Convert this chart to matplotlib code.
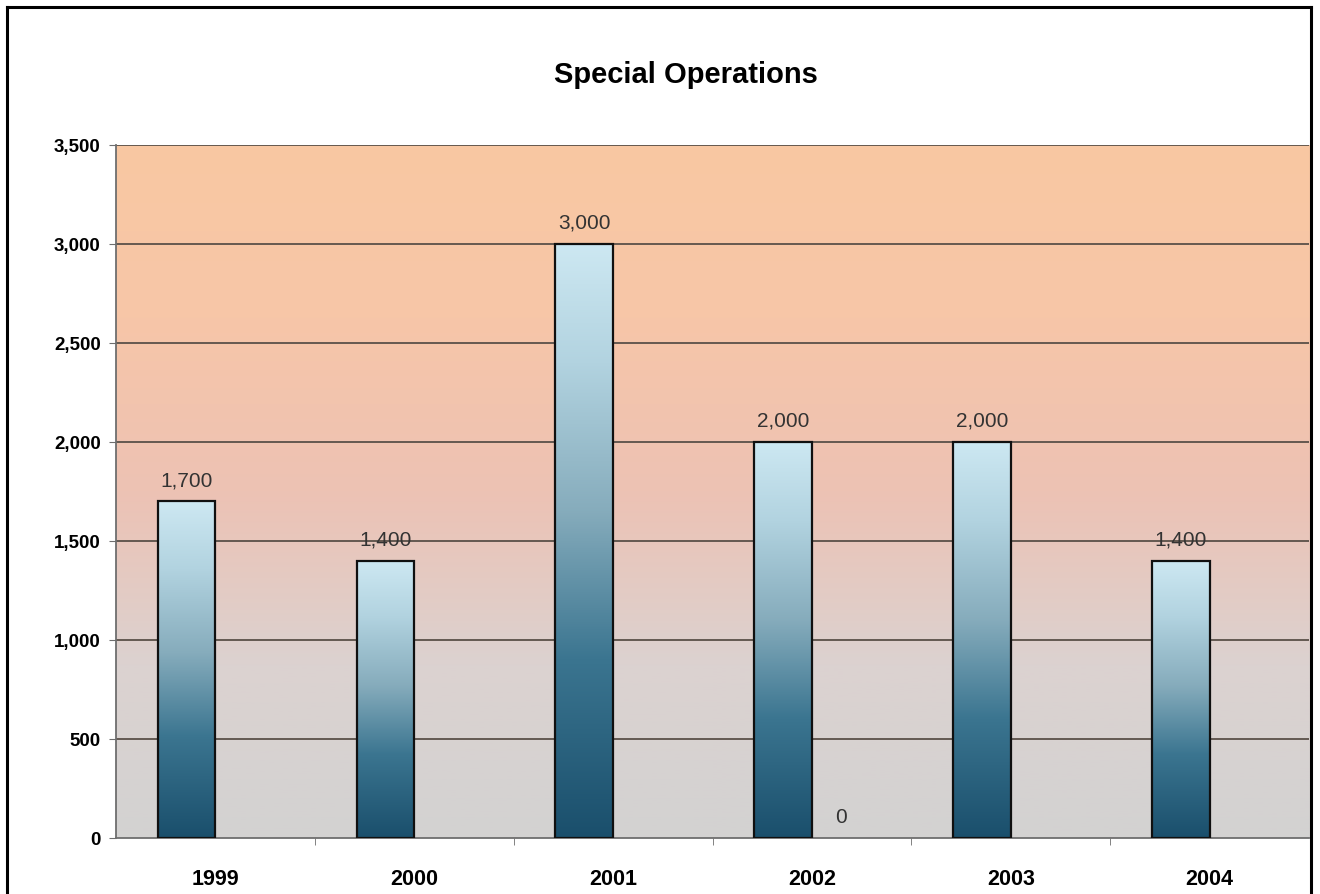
import numpy as np
import matplotlib
matplotlib.use('Agg')
import matplotlib.pyplot as plt
from matplotlib.colors import LinearSegmentedColormap
from matplotlib.patches import Rectangle
from matplotlib.ticker import FuncFormatter, FixedLocator

# Data
years = ['1999', '2000', '2001', '2002', '2003', '2004']
operations = [1700, 1400, 3000, 2000, 2000, 1400]
second_series = [None, None, None, 0, None, None]  # only the 2002 zero label shows

plt.rcParams['font.family'] = ['Liberation Sans', 'DejaVu Sans']

dpi = 100
fig = plt.figure(figsize=(1320 / dpi, 894 / dpi), dpi=dpi)
ax = fig.add_axes([0.0879, 0.0626, 0.9038, 0.7752])

x = np.arange(len(years))
width = 0.29
ymax = 3500

ax.set_xlim(-0.5, len(years) - 0.5)
ax.set_ylim(0, ymax)

# background gradient: grey at bottom -> pinkish -> peach at top
bg_cmap = LinearSegmentedColormap.from_list(
    'bg', [(0.0, '#d3d2d2'), (0.25, '#dcd2d0'), (0.5, '#edc2b4'), (0.75, '#f7c6a8'), (1.0, '#f9c8a2')])
grad = np.linspace(0, 1, 256).reshape(-1, 1)
ax.imshow(grad, cmap=bg_cmap, aspect='auto', origin='lower',
          extent=[-0.5, len(years) - 0.5, 0, ymax], zorder=0)

# grid lines
for yv in range(500, ymax + 1, 500):
    ax.axhline(yv, color='#5a5048', lw=1.3, zorder=1)

# bars with vertical gradient
bar_cmap = LinearSegmentedColormap.from_list(
    'bar', [(0.0, '#1a4f6c'), (0.3, '#3b7590'), (0.55, '#86acbc'), (0.8, '#b2d3e0'), (1.0, '#cde8f2')])
bars = ax.bar(x - width / 2, operations, width, facecolor='none',
              edgecolor='#101010', linewidth=1.6, zorder=3)
for b in bars:
    x0, h = b.get_x(), b.get_height()
    shade = np.linspace(0, 1, 256).reshape(-1, 1)
    im = ax.imshow(shade, cmap=bar_cmap, aspect='auto', origin='lower',
                   extent=[x0, x0 + width, 0, h], zorder=2)
    im.set_clip_path(Rectangle((x0, 0), width, h, transform=ax.transData))

ax.set_xlim(-0.5, len(years) - 0.5)
ax.set_ylim(0, ymax)

# value labels
for xi, v in zip(x, operations):
    ax.annotate(f'{v:,}', (xi - width / 2, v), xytext=(0, 8), textcoords='offset points',
                ha='center', va='bottom', fontsize=15, color='#333333')
for xi, v in zip(x, second_series):
    if v is not None:
        ax.annotate(f'{v:,}', (xi + width / 2, v), xytext=(0, 8), textcoords='offset points',
                    ha='center', va='bottom', fontsize=15, color='#333333')

# axes styling
for s in ['top', 'right']:
    ax.spines[s].set_visible(False)
ax.spines['left'].set_color('#6e6e6e')
ax.spines['bottom'].set_color('#6e6e6e')
ax.spines['left'].set_linewidth(1.3)
ax.spines['bottom'].set_linewidth(1.3)

ax.set_yticks(range(0, ymax + 1, 500))
ax.yaxis.set_major_formatter(FuncFormatter(lambda v, p: f'{int(v):,}'))
ax.tick_params(axis='y', length=5, color='#6e6e6e', pad=6, labelsize=13.5)
for lab in ax.get_yticklabels():
    lab.set_fontweight('bold')

ax.set_xticks(x)
ax.set_xticklabels(years, fontsize=15.5, fontweight='bold')
ax.tick_params(axis='x', which='major', length=0, pad=22)
ax.xaxis.set_minor_locator(FixedLocator(np.arange(0.5, len(years) - 0.5, 1)))
ax.tick_params(axis='x', which='minor', length=5, color='#6e6e6e')

# title
fig.text(0.52, 0.916, 'Special Operations', ha='center', va='center',
         fontsize=21, fontweight='bold')

# outer frame
fig.add_artist(plt.Line2D([7 / 1320, 7 / 1320], [0, 1 - 7 / 894], color='black', lw=2.2))
fig.add_artist(plt.Line2D([7 / 1320, 1311 / 1320], [1 - 7 / 894, 1 - 7 / 894], color='black', lw=2.2))
fig.add_artist(plt.Line2D([1311 / 1320, 1311 / 1320], [0, 1 - 7 / 894], color='black', lw=2.2))

fig.savefig('out.png', dpi=dpi)
